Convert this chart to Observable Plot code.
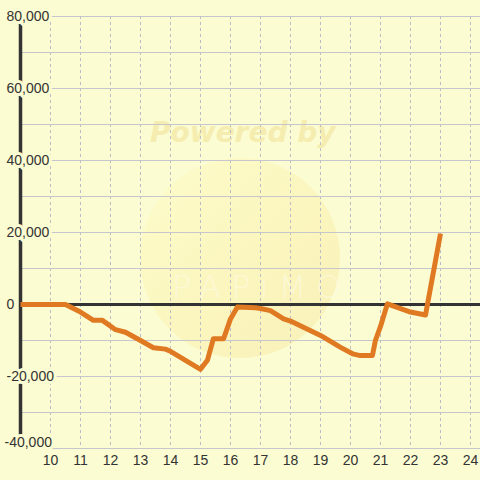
<!DOCTYPE html>
<html>
<head>
<meta charset="utf-8">
<script src="https://cdn.jsdelivr.net/npm/d3@7"></script>
<script src="https://cdn.jsdelivr.net/npm/@observablehq/plot@0.6"></script>
<style>
  html, body { margin: 0; padding: 0; background: #fcfcd2; }
  #wrap { position: relative; width: 480px; height: 480px; overflow: hidden; }
  #wm-circle { position: absolute; left: 140px; top: 158px; width: 200px; height: 200px; border-radius: 50%;
    background: linear-gradient(135deg, #fdfcca 0%, #fbf5bc 55%, #f8efb6 100%); opacity: 0.9; }
  #wm-text { position: absolute; left: 150px; top: 116px; font: italic bold 28px "DejaVu Sans", sans-serif;
    color: #f5edb0; white-space: nowrap; }
  #wm-logo { position: absolute; left: 172px; top: 268px; font: 300 32px "DejaVu Sans", sans-serif; color: #fefbe4;
    opacity: 0.6; letter-spacing: 10px; white-space: nowrap; }
  #chart { position: absolute; left: 0; top: 0; }
</style>
</head>
<body>
<div id="wrap">
  <div id="wm-circle"></div>
  <div id="wm-text">Powered by</div>
  <div id="wm-logo">PAPiMO</div>
  <div id="chart"></div>
</div>
<script>
const hours = [9, 10.5, 11, 11.43, 11.73, 12.17, 12.5, 13, 13.43, 13.83, 14, 15, 15.23, 15.43, 15.77, 16, 16.23, 16.83, 17, 17.33, 17.77, 18, 19, 19.67, 20.07, 20.33, 20.73, 20.83, 21, 21.23, 22, 22.5, 23];
const values = [0, 0, -2100, -4400, -4400, -7000, -7700, -10000, -12000, -12400, -13000, -18000, -15500, -9500, -9500, -4000, -700, -900, -1100, -1700, -4000, -4600, -8600, -11900, -13700, -14200, -14200, -10000, -6100, 200, -2100, -2900, 19700];
const xTicks = [10, 11, 12, 13, 14, 15, 16, 17, 18, 19, 20, 21, 22, 23, 24];
const yTicks = [-40000, -20000, 0, 20000, 40000, 60000, 80000];
const yGrid = [-40000, -30000, -20000, -10000, 0, 10000, 20000, 30000, 40000, 50000, 60000, 70000, 80000];

const bg = "#fcfcd2";
const data = hours.map((h, i) => ({hour: h, value: values[i]}));
const yMin = d3.min(yTicks);
const fmt = d => d.toLocaleString("en-US");

const chart = Plot.plot({
  width: 480,
  height: 480,
  marginLeft: 20,
  marginRight: 0,
  marginTop: 16,
  marginBottom: 32,
  style: {background: "transparent", fontFamily: "'Liberation Sans', Arial, sans-serif", fontSize: "14px", color: "#333"},
  x: {domain: [9, 24.3333], ticks: xTicks, tickSize: 0, tickPadding: 7, tickFormat: d => String(d), label: null},
  y: {domain: [-40000, 80000], axis: null},
  marks: [
    Plot.ruleX(xTicks, {x: d => d, stroke: "#bcbcc4", strokeWidth: 1, strokeDasharray: "3,3"}),
    Plot.ruleY(yGrid, {y: d => d, stroke: "#c6c6cc", strokeWidth: 1.2}),
    Plot.ruleY([0], {y: d => d, stroke: "#333333", strokeWidth: 3}),
    Plot.ruleX([9], {x: d => d, stroke: "#333333", strokeWidth: 3.5, insetTop: 8, insetBottom: 12}),
    Plot.text(yTicks.filter(d => d !== yMin), {y: d => d, frameAnchor: "left", dx: -14, textAnchor: "start",
      text: fmt, fill: "#333", stroke: bg, strokeWidth: 6, fontSize: 14}),
    Plot.text([yMin], {y: d => d, frameAnchor: "left", dx: -16, dy: -6, textAnchor: "start",
      text: fmt, fill: "#333", stroke: bg, strokeWidth: 6, fontSize: 14}),
    Plot.line(data, {x: "hour", y: "value", stroke: "#e07a22", strokeWidth: 5, strokeLinejoin: "round", strokeLinecap: "butt"})
  ]
});
document.getElementById("chart").appendChild(chart);
</script>
</body>
</html>
